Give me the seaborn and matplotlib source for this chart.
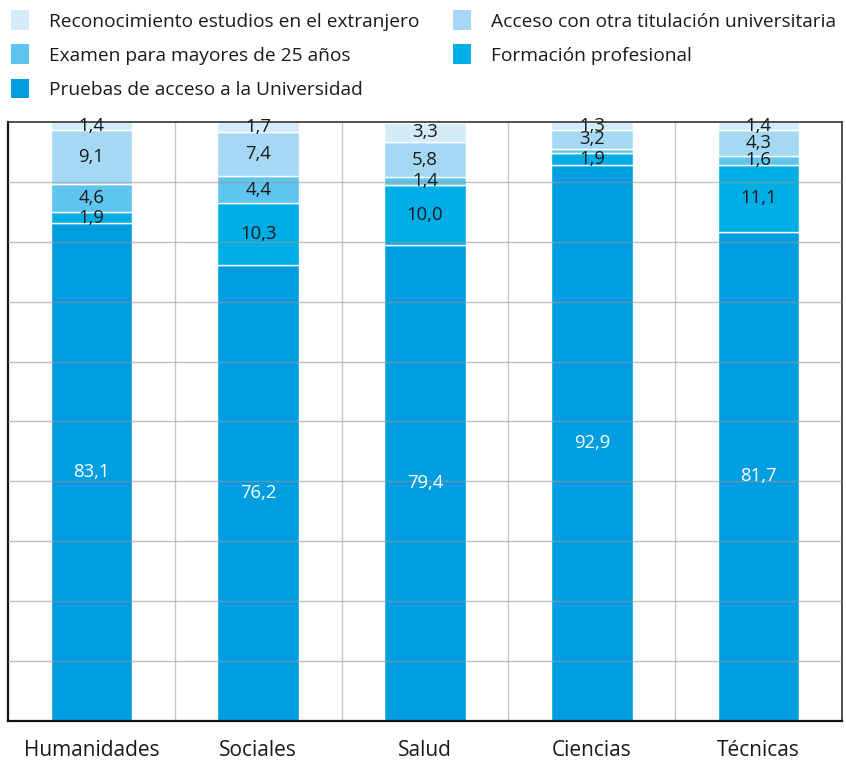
import numpy as np
import pandas as pd
import matplotlib
matplotlib.use("Agg")
import matplotlib.pyplot as plt
import seaborn as sns
from matplotlib.patches import Patch

# ===== 数据 =====
ramas = ["Humanidades", "Sociales", "Salud", "Ciencias", "Técnicas"]
series = [
    "Pruebas de acceso a la Universidad",
    "Formación profesional",
    "Examen para mayores de 25 años",
    "Acceso con otra titulación universitaria",
    "Reconocimiento estudios en el extranjero",
]
pruebas = [83.1, 76.2, 79.4, 92.9, 81.7]
formacion = [1.9, 10.3, 10.0, 1.9, 11.1]
examen = [4.6, 4.4, 1.4, 0.7, 1.6]
acceso = [9.1, 7.4, 5.8, 3.2, 4.3]
reconocimiento = [1.4, 1.7, 3.3, 1.3, 1.4]
# 只有部分小段没有数字标签
mostrar = {
    "Examen para mayores de 25 años": [True, True, True, False, True],
}

colores = ["#009ee0", "#00aee6", "#5fc4ee", "#a5d9f3", "#d4ecf9"]

sns.set_style("white")
plt.rcParams['font.family'] = ['Open Sans', 'DejaVu Sans']

fig = plt.figure(figsize=(8.46, 7.61), dpi=100)
ax = fig.add_axes([0.0095, 0.0526, 0.9858, 0.7871])

valores = [pruebas, formacion, examen, acceso, reconocimiento]
base = np.zeros(len(ramas))
for nombre, vals, col in zip(series, valores, colores):
    vals = np.array(vals)
    sns.barplot(x=ramas, y=vals, bottom=base, color=col, width=0.49,
                saturation=1, edgecolor="white", linewidth=1, ax=ax, zorder=1)
    flags = mostrar.get(nombre, [True] * len(ramas))
    for i, v in enumerate(vals):
        if not flags[i]:
            continue
        txt_col = "white" if nombre == series[0] else "#1a1a1a"
        ax.text(i, base[i] + v / 2, f"{v:.1f}".replace(".", ","),
                ha="center", va="center", fontsize=13.3, color=txt_col, zorder=4)
    base = base + vals

# 网格线与边框
ax.set_xlim(-0.5, 4.5)
ax.set_ylim(0, 100)
ax.set_yticks(np.arange(0, 101, 10))
ax.set_yticklabels([])
for yy in np.arange(10, 100, 10):
    ax.axhline(yy, color="#999999", lw=1, alpha=0.6, zorder=3)
for xx in np.arange(0.5, 4.5, 1):
    ax.axvline(xx, color="#c8c8c8", lw=1, zorder=0.5)
ax.set_xticks(range(len(ramas)))
ax.set_xticklabels(ramas, fontsize=15, color="#1a1a1a")
ax.tick_params(axis="x", length=0, pad=14)
ax.tick_params(axis="y", length=0)
ax.set_xlabel("")
ax.set_ylabel("")
for s in ["left", "bottom"]:
    ax.spines[s].set_color("#111111")
    ax.spines[s].set_linewidth(1.6)
for s in ["top", "right"]:
    ax.spines[s].set_color("#333333")
    ax.spines[s].set_linewidth(1.2)

# 图例：按行排列
orden = [4, 2, 0, 3, 1]
handles = [Patch(facecolor=colores[k], edgecolor="none") for k in orden]
labels = [series[k] for k in orden]
fig.legend(handles, labels, ncol=2, loc="upper left", bbox_to_anchor=(-0.003, 1.004),
           frameon=False, fontsize=13.8, handlelength=0.95, handleheight=1.2,
           handletextpad=1.05, columnspacing=1.75, labelspacing=0.72,
           borderaxespad=0.3, labelcolor="#1a1a1a")

plt.savefig("out.png", dpi=100)
